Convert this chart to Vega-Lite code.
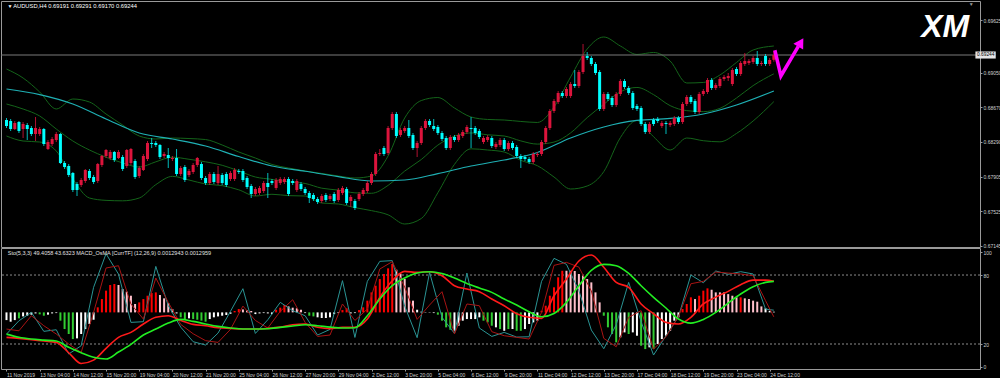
{
"$schema":"https://vega.github.io/schema/vega-lite/v6.json",
"background":"#000000",
"padding":0,
"spacing":1,
"bounds":"flush",
"config":{"view":{"stroke":"#9a9a9a","strokeWidth":1},"axis":{"labelFont":"Liberation Sans","labelFontSize":5,"labelColor":"#d0d0d0","tickColor":"#9a9a9a","domain":false,"grid":false,"tickSize":2,"title":null}},
"datasets":{
"candles":[
{"i":0,"o":0.68529,"h":0.68551,"l":0.68441,"c":0.68463},
{"i":1,"o":0.68518,"h":0.68540,"l":0.68408,"c":0.68430},
{"i":2,"o":0.68430,"h":0.68518,"l":0.68419,"c":0.68496},
{"i":3,"o":0.68507,"h":0.68518,"l":0.68386,"c":0.68408},
{"i":4,"o":0.68430,"h":0.68507,"l":0.68331,"c":0.68485},
{"i":5,"o":0.68474,"h":0.68496,"l":0.68309,"c":0.68430},
{"i":6,"o":0.68441,"h":0.68463,"l":0.68353,"c":0.68375},
{"i":7,"o":0.68375,"h":0.68562,"l":0.68298,"c":0.68441},
{"i":8,"o":0.68375,"h":0.68452,"l":0.68353,"c":0.68430},
{"i":9,"o":0.68430,"h":0.68441,"l":0.68243,"c":0.68265},
{"i":10,"o":0.68210,"h":0.68309,"l":0.68199,"c":0.68287},
{"i":11,"o":0.68265,"h":0.68342,"l":0.68243,"c":0.68320},
{"i":12,"o":0.68309,"h":0.68397,"l":0.68287,"c":0.68375},
{"i":13,"o":0.68375,"h":0.68386,"l":0.68045,"c":0.68056},
{"i":14,"o":0.68056,"h":0.68078,"l":0.67990,"c":0.68012},
{"i":15,"o":0.68023,"h":0.68045,"l":0.67902,"c":0.67924},
{"i":16,"o":0.67946,"h":0.67957,"l":0.67737,"c":0.67759},
{"i":17,"o":0.67825,"h":0.67847,"l":0.67693,"c":0.67759},
{"i":18,"o":0.67814,"h":0.67891,"l":0.67792,"c":0.67869},
{"i":19,"o":0.67858,"h":0.67990,"l":0.67836,"c":0.67979},
{"i":20,"o":0.67968,"h":0.67990,"l":0.67869,"c":0.67891},
{"i":21,"o":0.67902,"h":0.67924,"l":0.67825,"c":0.67847},
{"i":22,"o":0.67858,"h":0.68056,"l":0.67836,"c":0.68045},
{"i":23,"o":0.68034,"h":0.68144,"l":0.68012,"c":0.68133},
{"i":24,"o":0.68133,"h":0.68210,"l":0.68111,"c":0.68199},
{"i":25,"o":0.68111,"h":0.68199,"l":0.68089,"c":0.68177},
{"i":26,"o":0.68177,"h":0.68188,"l":0.68067,"c":0.68089},
{"i":27,"o":0.68111,"h":0.68199,"l":0.68100,"c":0.68177},
{"i":28,"o":0.68122,"h":0.68144,"l":0.67968,"c":0.67990},
{"i":29,"o":0.68023,"h":0.68210,"l":0.68001,"c":0.68199},
{"i":30,"o":0.68056,"h":0.68221,"l":0.68034,"c":0.68210},
{"i":31,"o":0.68078,"h":0.68100,"l":0.67880,"c":0.67902},
{"i":32,"o":0.67913,"h":0.68023,"l":0.67891,"c":0.68001},
{"i":33,"o":0.67979,"h":0.68155,"l":0.67968,"c":0.68133},
{"i":34,"o":0.68100,"h":0.68298,"l":0.68078,"c":0.68276},
{"i":35,"o":0.68276,"h":0.68331,"l":0.68221,"c":0.68265},
{"i":36,"o":0.68276,"h":0.68298,"l":0.68232,"c":0.68254},
{"i":37,"o":0.68254,"h":0.68265,"l":0.68100,"c":0.68122},
{"i":38,"o":0.68133,"h":0.68177,"l":0.68111,"c":0.68155},
{"i":39,"o":0.68144,"h":0.68221,"l":0.68001,"c":0.68111},
{"i":40,"o":0.68100,"h":0.68133,"l":0.68078,"c":0.68111},
{"i":41,"o":0.68111,"h":0.68210,"l":0.67913,"c":0.67935},
{"i":42,"o":0.67935,"h":0.68023,"l":0.67913,"c":0.68001},
{"i":43,"o":0.68012,"h":0.68034,"l":0.67847,"c":0.67869},
{"i":44,"o":0.67924,"h":0.67990,"l":0.67902,"c":0.67968},
{"i":45,"o":0.67957,"h":0.68056,"l":0.67935,"c":0.68034},
{"i":46,"o":0.68034,"h":0.68122,"l":0.68012,"c":0.68111},
{"i":47,"o":0.68045,"h":0.68067,"l":0.67869,"c":0.67891},
{"i":48,"o":0.67891,"h":0.67913,"l":0.67814,"c":0.67836},
{"i":49,"o":0.67836,"h":0.67957,"l":0.67814,"c":0.67935},
{"i":50,"o":0.67935,"h":0.67957,"l":0.67825,"c":0.67847},
{"i":51,"o":0.67836,"h":0.68023,"l":0.67814,"c":0.67935},
{"i":52,"o":0.67924,"h":0.67946,"l":0.67814,"c":0.67836},
{"i":53,"o":0.67935,"h":0.67957,"l":0.67792,"c":0.67814},
{"i":54,"o":0.67880,"h":0.67968,"l":0.67858,"c":0.67946},
{"i":55,"o":0.67880,"h":0.68001,"l":0.67858,"c":0.67979},
{"i":56,"o":0.67968,"h":0.67990,"l":0.67935,"c":0.67957},
{"i":57,"o":0.67968,"h":0.67990,"l":0.67847,"c":0.67869},
{"i":58,"o":0.67891,"h":0.67913,"l":0.67770,"c":0.67792},
{"i":59,"o":0.67803,"h":0.67825,"l":0.67671,"c":0.67715},
{"i":60,"o":0.67715,"h":0.67792,"l":0.67693,"c":0.67770},
{"i":61,"o":0.67726,"h":0.67803,"l":0.67704,"c":0.67781},
{"i":62,"o":0.67748,"h":0.67858,"l":0.67726,"c":0.67836},
{"i":63,"o":0.67836,"h":0.67946,"l":0.67671,"c":0.67792},
{"i":64,"o":0.67858,"h":0.67880,"l":0.67814,"c":0.67836},
{"i":65,"o":0.67781,"h":0.67891,"l":0.67759,"c":0.67869},
{"i":66,"o":0.67836,"h":0.67902,"l":0.67814,"c":0.67880},
{"i":67,"o":0.67847,"h":0.67902,"l":0.67825,"c":0.67880},
{"i":68,"o":0.67880,"h":0.67902,"l":0.67693,"c":0.67715},
{"i":69,"o":0.67858,"h":0.67880,"l":0.67814,"c":0.67836},
{"i":70,"o":0.67759,"h":0.67880,"l":0.67737,"c":0.67858},
{"i":71,"o":0.67825,"h":0.67847,"l":0.67748,"c":0.67770},
{"i":72,"o":0.67770,"h":0.67792,"l":0.67704,"c":0.67726},
{"i":73,"o":0.67726,"h":0.67748,"l":0.67616,"c":0.67671},
{"i":74,"o":0.67704,"h":0.67726,"l":0.67638,"c":0.67660},
{"i":75,"o":0.67660,"h":0.67682,"l":0.67605,"c":0.67627},
{"i":76,"o":0.67638,"h":0.67715,"l":0.67616,"c":0.67693},
{"i":77,"o":0.67704,"h":0.67726,"l":0.67627,"c":0.67649},
{"i":78,"o":0.67660,"h":0.67715,"l":0.67638,"c":0.67693},
{"i":79,"o":0.67715,"h":0.67737,"l":0.67616,"c":0.67638},
{"i":80,"o":0.67649,"h":0.67781,"l":0.67627,"c":0.67759},
{"i":81,"o":0.67726,"h":0.67803,"l":0.67704,"c":0.67781},
{"i":82,"o":0.67770,"h":0.67792,"l":0.67594,"c":0.67616},
{"i":83,"o":0.67638,"h":0.67704,"l":0.67572,"c":0.67682},
{"i":84,"o":0.67638,"h":0.67660,"l":0.67539,"c":0.67561},
{"i":85,"o":0.67660,"h":0.67737,"l":0.67638,"c":0.67715},
{"i":86,"o":0.67715,"h":0.67781,"l":0.67693,"c":0.67759},
{"i":87,"o":0.67748,"h":0.67858,"l":0.67726,"c":0.67836},
{"i":88,"o":0.67836,"h":0.67957,"l":0.67814,"c":0.67935},
{"i":89,"o":0.67935,"h":0.68177,"l":0.67913,"c":0.68155},
{"i":90,"o":0.68155,"h":0.68210,"l":0.68133,"c":0.68166},
{"i":91,"o":0.68221,"h":0.68243,"l":0.68133,"c":0.68155},
{"i":92,"o":0.68166,"h":0.68463,"l":0.68144,"c":0.68441},
{"i":93,"o":0.68441,"h":0.68617,"l":0.68419,"c":0.68595},
{"i":94,"o":0.68595,"h":0.68617,"l":0.68331,"c":0.68353},
{"i":95,"o":0.68364,"h":0.68441,"l":0.68342,"c":0.68419},
{"i":96,"o":0.68408,"h":0.68463,"l":0.68386,"c":0.68441},
{"i":97,"o":0.68441,"h":0.68529,"l":0.68331,"c":0.68353},
{"i":98,"o":0.68364,"h":0.68386,"l":0.68199,"c":0.68221},
{"i":99,"o":0.68221,"h":0.68298,"l":0.68122,"c":0.68276},
{"i":100,"o":0.68276,"h":0.68463,"l":0.68254,"c":0.68441},
{"i":101,"o":0.68441,"h":0.68540,"l":0.68419,"c":0.68518},
{"i":102,"o":0.68518,"h":0.68540,"l":0.68452,"c":0.68474},
{"i":103,"o":0.68463,"h":0.68540,"l":0.68408,"c":0.68430},
{"i":104,"o":0.68452,"h":0.68474,"l":0.68364,"c":0.68386},
{"i":105,"o":0.68386,"h":0.68408,"l":0.68298,"c":0.68320},
{"i":106,"o":0.68331,"h":0.68353,"l":0.68199,"c":0.68221},
{"i":107,"o":0.68221,"h":0.68364,"l":0.68199,"c":0.68342},
{"i":108,"o":0.68342,"h":0.68364,"l":0.68287,"c":0.68309},
{"i":109,"o":0.68309,"h":0.68386,"l":0.68287,"c":0.68364},
{"i":110,"o":0.68353,"h":0.68419,"l":0.68331,"c":0.68397},
{"i":111,"o":0.68397,"h":0.68474,"l":0.68375,"c":0.68452},
{"i":112,"o":0.68441,"h":0.68562,"l":0.68221,"c":0.68430},
{"i":113,"o":0.68441,"h":0.68463,"l":0.68364,"c":0.68386},
{"i":114,"o":0.68408,"h":0.68430,"l":0.68320,"c":0.68342},
{"i":115,"o":0.68287,"h":0.68353,"l":0.68265,"c":0.68331},
{"i":116,"o":0.68309,"h":0.68364,"l":0.68287,"c":0.68342},
{"i":117,"o":0.68331,"h":0.68353,"l":0.68221,"c":0.68243},
{"i":118,"o":0.68232,"h":0.68287,"l":0.68210,"c":0.68265},
{"i":119,"o":0.68254,"h":0.68331,"l":0.68232,"c":0.68309},
{"i":120,"o":0.68309,"h":0.68331,"l":0.68188,"c":0.68210},
{"i":121,"o":0.68210,"h":0.68298,"l":0.68188,"c":0.68276},
{"i":122,"o":0.68276,"h":0.68298,"l":0.68199,"c":0.68221},
{"i":123,"o":0.68232,"h":0.68254,"l":0.68111,"c":0.68133},
{"i":124,"o":0.68133,"h":0.68155,"l":0.68001,"c":0.68100},
{"i":125,"o":0.68122,"h":0.68144,"l":0.68078,"c":0.68100},
{"i":126,"o":0.68100,"h":0.68122,"l":0.68045,"c":0.68067},
{"i":127,"o":0.68067,"h":0.68177,"l":0.68045,"c":0.68155},
{"i":128,"o":0.68144,"h":0.68177,"l":0.68122,"c":0.68155},
{"i":129,"o":0.68155,"h":0.68309,"l":0.68133,"c":0.68287},
{"i":130,"o":0.68287,"h":0.68463,"l":0.68265,"c":0.68441},
{"i":131,"o":0.68441,"h":0.68650,"l":0.68419,"c":0.68628},
{"i":132,"o":0.68628,"h":0.68760,"l":0.68606,"c":0.68738},
{"i":133,"o":0.68727,"h":0.68848,"l":0.68705,"c":0.68826},
{"i":134,"o":0.68826,"h":0.68848,"l":0.68771,"c":0.68793},
{"i":135,"o":0.68793,"h":0.68892,"l":0.68771,"c":0.68870},
{"i":136,"o":0.68793,"h":0.68947,"l":0.68771,"c":0.68925},
{"i":137,"o":0.68925,"h":0.69079,"l":0.68881,"c":0.68903},
{"i":138,"o":0.68903,"h":0.69079,"l":0.68881,"c":0.69057},
{"i":139,"o":0.69057,"h":0.69365,"l":0.69035,"c":0.69233},
{"i":140,"o":0.69233,"h":0.69277,"l":0.69189,"c":0.69211},
{"i":141,"o":0.69211,"h":0.69233,"l":0.69123,"c":0.69145},
{"i":142,"o":0.69145,"h":0.69167,"l":0.69024,"c":0.69046},
{"i":143,"o":0.69057,"h":0.69079,"l":0.68628,"c":0.68650},
{"i":144,"o":0.68650,"h":0.68837,"l":0.68628,"c":0.68815},
{"i":145,"o":0.68815,"h":0.68837,"l":0.68738,"c":0.68760},
{"i":146,"o":0.68771,"h":0.68793,"l":0.68672,"c":0.68694},
{"i":147,"o":0.68694,"h":0.68837,"l":0.68672,"c":0.68815},
{"i":148,"o":0.68815,"h":0.68980,"l":0.68793,"c":0.68958},
{"i":149,"o":0.68958,"h":0.68980,"l":0.68870,"c":0.68892},
{"i":150,"o":0.68881,"h":0.68903,"l":0.68804,"c":0.68826},
{"i":151,"o":0.68826,"h":0.68848,"l":0.68639,"c":0.68661},
{"i":152,"o":0.68683,"h":0.68705,"l":0.68628,"c":0.68650},
{"i":153,"o":0.68661,"h":0.68683,"l":0.68463,"c":0.68485},
{"i":154,"o":0.68485,"h":0.68507,"l":0.68375,"c":0.68397},
{"i":155,"o":0.68397,"h":0.68507,"l":0.68375,"c":0.68485},
{"i":156,"o":0.68529,"h":0.68551,"l":0.68463,"c":0.68485},
{"i":157,"o":0.68540,"h":0.68562,"l":0.68496,"c":0.68518},
{"i":158,"o":0.68463,"h":0.68518,"l":0.68441,"c":0.68496},
{"i":159,"o":0.68496,"h":0.68518,"l":0.68375,"c":0.68485},
{"i":160,"o":0.68474,"h":0.68518,"l":0.68452,"c":0.68496},
{"i":161,"o":0.68485,"h":0.68573,"l":0.68463,"c":0.68551},
{"i":162,"o":0.68551,"h":0.68573,"l":0.68485,"c":0.68507},
{"i":163,"o":0.68507,"h":0.68727,"l":0.68485,"c":0.68705},
{"i":164,"o":0.68705,"h":0.68804,"l":0.68683,"c":0.68782},
{"i":165,"o":0.68782,"h":0.68804,"l":0.68705,"c":0.68727},
{"i":166,"o":0.68738,"h":0.68760,"l":0.68595,"c":0.68617},
{"i":167,"o":0.68617,"h":0.68837,"l":0.68595,"c":0.68815},
{"i":168,"o":0.68815,"h":0.68870,"l":0.68793,"c":0.68848},
{"i":169,"o":0.68837,"h":0.68991,"l":0.68815,"c":0.68969},
{"i":170,"o":0.68969,"h":0.68991,"l":0.68859,"c":0.68881},
{"i":171,"o":0.68881,"h":0.68936,"l":0.68859,"c":0.68914},
{"i":172,"o":0.68903,"h":0.69002,"l":0.68881,"c":0.68980},
{"i":173,"o":0.68980,"h":0.69024,"l":0.68958,"c":0.69002},
{"i":174,"o":0.68991,"h":0.69046,"l":0.68958,"c":0.69013},
{"i":175,"o":0.68925,"h":0.69101,"l":0.68903,"c":0.69079},
{"i":176,"o":0.69090,"h":0.69112,"l":0.69013,"c":0.69035},
{"i":177,"o":0.69035,"h":0.69178,"l":0.69013,"c":0.69156},
{"i":178,"o":0.69145,"h":0.69266,"l":0.69123,"c":0.69178},
{"i":179,"o":0.69156,"h":0.69200,"l":0.69134,"c":0.69178},
{"i":180,"o":0.69167,"h":0.69233,"l":0.69145,"c":0.69211},
{"i":181,"o":0.69211,"h":0.69288,"l":0.69123,"c":0.69145},
{"i":182,"o":0.69145,"h":0.69178,"l":0.69123,"c":0.69156},
{"i":183,"o":0.69233,"h":0.69255,"l":0.69123,"c":0.69145},
{"i":184,"o":0.69145,"h":0.69211,"l":0.69123,"c":0.69189},
{"i":185,"o":0.69191,"h":0.69291,"l":0.69170,"c":0.69244}
],
"bands":[
{"i":0,"up":0.69090,"mid":0.68705,"lo":0.68353},
{"i":4,"up":0.68991,"mid":0.68650,"lo":0.68298},
{"i":8,"up":0.68837,"mid":0.68573,"lo":0.68287},
{"i":12,"up":0.68650,"mid":0.68430,"lo":0.68188},
{"i":16,"up":0.68760,"mid":0.68298,"lo":0.67880},
{"i":20,"up":0.68727,"mid":0.68199,"lo":0.67671},
{"i":24,"up":0.68595,"mid":0.68120,"lo":0.67645},
{"i":28,"up":0.68474,"mid":0.68057,"lo":0.67640},
{"i":32,"up":0.68353,"mid":0.68011,"lo":0.67671},
{"i":36,"up":0.68320,"mid":0.68069,"lo":0.67818},
{"i":40,"up":0.68331,"mid":0.68120,"lo":0.67909},
{"i":44,"up":0.68325,"mid":0.68097,"lo":0.67869},
{"i":48,"up":0.68314,"mid":0.68069,"lo":0.67825},
{"i":52,"up":0.68254,"mid":0.68031,"lo":0.67807},
{"i":56,"up":0.68177,"mid":0.67969,"lo":0.67761},
{"i":60,"up":0.68111,"mid":0.67902,"lo":0.67693},
{"i":64,"up":0.68040,"mid":0.67876,"lo":0.67712},
{"i":68,"up":0.68001,"mid":0.67849,"lo":0.67697},
{"i":72,"up":0.67968,"mid":0.67831,"lo":0.67693},
{"i":76,"up":0.67941,"mid":0.67779,"lo":0.67616},
{"i":80,"up":0.67913,"mid":0.67758,"lo":0.67605},
{"i":84,"up":0.67891,"mid":0.67728,"lo":0.67565},
{"i":88,"up":0.67913,"mid":0.67723,"lo":0.67532},
{"i":92,"up":0.68133,"mid":0.67810,"lo":0.67486},
{"i":96,"up":0.68551,"mid":0.67967,"lo":0.67385},
{"i":100,"up":0.68743,"mid":0.68094,"lo":0.67445},
{"i":104,"up":0.68776,"mid":0.68253,"lo":0.67729},
{"i":108,"up":0.68661,"mid":0.68351,"lo":0.68041},
{"i":112,"up":0.68562,"mid":0.68387,"lo":0.68212},
{"i":116,"up":0.68535,"mid":0.68366,"lo":0.68199},
{"i":120,"up":0.68529,"mid":0.68353,"lo":0.68177},
{"i":124,"up":0.68513,"mid":0.68299,"lo":0.68085},
{"i":128,"up":0.68502,"mid":0.68264,"lo":0.68026},
{"i":132,"up":0.68672,"mid":0.68286,"lo":0.67902},
{"i":136,"up":0.69002,"mid":0.68387,"lo":0.67770},
{"i":140,"up":0.69310,"mid":0.68555,"lo":0.67803},
{"i":144,"up":0.69442,"mid":0.68702,"lo":0.67961},
{"i":148,"up":0.69343,"mid":0.68839,"lo":0.68335},
{"i":152,"up":0.69250,"mid":0.68887,"lo":0.68524},
{"i":156,"up":0.69272,"mid":0.68808,"lo":0.68345},
{"i":160,"up":0.69178,"mid":0.68687,"lo":0.68199},
{"i":164,"up":0.68936,"mid":0.68632,"lo":0.68331},
{"i":168,"up":0.68942,"mid":0.68621,"lo":0.68301},
{"i":172,"up":0.69024,"mid":0.68657,"lo":0.68289},
{"i":176,"up":0.69162,"mid":0.68771,"lo":0.68381},
{"i":180,"up":0.69299,"mid":0.68907,"lo":0.68518},
{"i":185,"up":0.69343,"mid":0.69037,"lo":0.68731}
],
"ma":[
{"i":0,"ma":0.68870},{"i":8,"ma":0.68809},{"i":16,"ma":0.68705},{"i":24,"ma":0.68540},{"i":32,"ma":0.68386},{"i":40,"ma":0.68320},{"i":48,"ma":0.68243},{"i":56,"ma":0.68127},{"i":64,"ma":0.68023},{"i":72,"ma":0.67965},{"i":80,"ma":0.67906},{"i":88,"ma":0.67858},{"i":96,"ma":0.67869},{"i":104,"ma":0.67940},{"i":112,"ma":0.68023},{"i":120,"ma":0.68089},{"i":128,"ma":0.68172},{"i":136,"ma":0.68331},{"i":144,"ma":0.68452},{"i":152,"ma":0.68524},{"i":160,"ma":0.68546},{"i":168,"ma":0.68595},{"i":176,"ma":0.68694},{"i":185,"ma":0.68848}
],
"arrow":[
{"i":185.25,"p":0.69296},{"i":186.7,"p":0.69013},{"i":190.9,"p":0.69339}
],
"osc":[
{"i":0,"k":28.6,"d":33.0,"m1":25.8,"m2":28.6},
{"i":3,"k":40.2,"d":31.5,"m1":24.9,"m2":25.8},
{"i":6,"k":47.5,"d":44.6,"m1":23.7,"m2":24.3},
{"i":9,"k":31.0,"d":35.9,"m1":22.6,"m2":23.4},
{"i":12,"k":32.4,"d":28.7,"m1":21.4,"m2":22.6},
{"i":15,"k":11.3,"d":20.0,"m1":12.4,"m2":17.1},
{"i":18,"k":18.5,"d":12.7,"m1":3.1,"m2":12.4},
{"i":21,"k":69.3,"d":47.5,"m1":6.0,"m2":8.4},
{"i":24,"k":98.5,"d":86.1,"m1":16.2,"m2":6.9},
{"i":27,"k":80.8,"d":88.1,"m1":25.8,"m2":13.0},
{"i":30,"k":38.8,"d":54.8,"m1":30.1,"m2":19.7},
{"i":33,"k":39.4,"d":41.7,"m1":37.4,"m2":27.8},
{"i":36,"k":87.5,"d":77.4,"m1":43.2,"m2":33.0},
{"i":39,"k":53.3,"d":56.2,"m1":44.6,"m2":38.2},
{"i":42,"k":34.7,"d":37.1,"m1":40.5,"m2":41.4},
{"i":45,"k":22.0,"d":28.9,"m1":37.1,"m2":39.7},
{"i":48,"k":19.1,"d":22.9,"m1":35.9,"m2":37.4},
{"i":51,"k":29.5,"d":21.4,"m1":34.2,"m2":35.3},
{"i":54,"k":48.4,"d":32.7,"m1":33.6,"m2":33.9},
{"i":57,"k":68.1,"d":53.0,"m1":33.0,"m2":33.0},
{"i":60,"k":29.2,"d":40.5,"m1":33.0,"m2":33.0},
{"i":63,"k":41.1,"d":33.9,"m1":33.6,"m2":33.3},
{"i":66,"k":56.2,"d":48.4,"m1":34.7,"m2":34.5},
{"i":69,"k":49.0,"d":58.5,"m1":36.8,"m2":35.6},
{"i":72,"k":44.6,"d":38.8,"m1":37.4,"m2":36.8},
{"i":75,"k":27.8,"d":26.6,"m1":34.5,"m2":35.9},
{"i":78,"k":32.7,"d":27.8,"m1":33.3,"m2":34.7},
{"i":81,"k":75.1,"d":54.8,"m1":34.5,"m2":33.9},
{"i":84,"k":25.7,"d":40.5,"m1":34.5,"m2":34.2},
{"i":87,"k":74.5,"d":50.4,"m1":41.7,"m2":44.6},
{"i":90,"k":91.9,"d":85.2,"m1":60.5,"m2":59.1},
{"i":93,"k":92.5,"d":91.6,"m1":75.0,"m2":70.7},
{"i":96,"k":53.0,"d":69.5,"m1":83.2,"m2":77.4},
{"i":99,"k":25.5,"d":41.4,"m1":82.3,"m2":81.7},
{"i":102,"k":82.3,"d":53.9,"m1":82.9,"m2":82.9},
{"i":105,"k":43.2,"d":65.5,"m1":79.4,"m2":81.4},
{"i":108,"k":29.2,"d":28.7,"m1":70.7,"m2":77.4},
{"i":111,"k":81.7,"d":54.8,"m1":67.8,"m2":72.7},
{"i":114,"k":33.9,"d":53.3,"m1":65.5,"m2":68.7},
{"i":117,"k":26.6,"d":30.7,"m1":59.1,"m2":64.9},
{"i":120,"k":30.1,"d":27.2,"m1":53.3,"m2":59.1},
{"i":123,"k":26.0,"d":25.8,"m1":46.3,"m2":53.9},
{"i":126,"k":26.3,"d":24.3,"m1":43.2,"m2":48.1},
{"i":129,"k":74.5,"d":47.5,"m1":42.3,"m2":43.7},
{"i":132,"k":94.5,"d":88.4,"m1":62.0,"m2":46.6},
{"i":135,"k":89.3,"d":91.0,"m1":76.5,"m2":56.2},
{"i":138,"k":66.4,"d":86.9,"m1":92.2,"m2":70.7},
{"i":141,"k":32.1,"d":66.1,"m1":97.4,"m2":84.0},
{"i":144,"k":15.9,"d":24.9,"m1":86.7,"m2":89.3},
{"i":147,"k":36.8,"d":17.6,"m1":73.6,"m2":88.1},
{"i":150,"k":73.6,"d":43.2,"m1":69.3,"m2":81.4},
{"i":153,"k":39.4,"d":49.0,"m1":54.8,"m2":70.7},
{"i":156,"k":10.4,"d":15.6,"m1":46.3,"m2":60.6},
{"i":159,"k":27.2,"d":26.3,"m1":38.8,"m2":51.3},
{"i":162,"k":43.7,"d":43.7,"m1":37.4,"m2":41.7},
{"i":165,"k":80.0,"d":72.4,"m1":43.2,"m2":38.2},
{"i":168,"k":73.3,"d":74.5,"m1":54.8,"m2":41.4},
{"i":171,"k":83.5,"d":82.6,"m1":60.8,"m2":47.5},
{"i":174,"k":80.6,"d":81.7,"m1":65.8,"m2":55.6},
{"i":177,"k":82.9,"d":80.9,"m1":71.6,"m2":63.5},
{"i":180,"k":80.9,"d":79.4,"m1":75.6,"m2":69.8},
{"i":183,"k":50.4,"d":57.7,"m1":75.6,"m2":73.6},
{"i":185,"k":49.4,"d":43.6,"m1":74.5,"m2":74.5}
],
"hist":[
{"i":0,"v":40.8,"s":"-u"},{"i":1,"v":39.4,"s":"-u"},{"i":2,"v":40.8,"s":"-u"},{"i":3,"v":42.3,"s":"-d"},{"i":4,"v":44.0,"s":"-u"},{"i":5,"v":44.6,"s":"-u"},{"i":6,"v":45.5,"s":"-u"},{"i":7,"v":46.6,"s":"-u"},{"i":8,"v":45.8,"s":"-d"},{"i":9,"v":44.6,"s":"-d"},
{"i":10,"v":45.5,"s":"-u"},{"i":11,"v":46.6,"s":"-u"},{"i":12,"v":46.9,"s":"-u"},{"i":13,"v":40.3,"s":"-d"},{"i":14,"v":33.0,"s":"-d"},{"i":15,"v":28.7,"s":"-d"},{"i":16,"v":24.3,"s":"-d"},{"i":17,"v":24.9,"s":"-u"},{"i":18,"v":28.7,"s":"-u"},{"i":19,"v":33.0,"s":"-u"},
{"i":20,"v":37.4,"s":"-u"},{"i":21,"v":41.1,"s":"-u"},{"i":22,"v":51.9,"s":"+u"},{"i":23,"v":59.1,"s":"+u"},{"i":24,"v":66.4,"s":"+u"},{"i":25,"v":71.3,"s":"+u"},{"i":26,"v":72.2,"s":"+u"},{"i":27,"v":71.3,"s":"+d"},{"i":28,"v":67.8,"s":"+d"},{"i":29,"v":65.5,"s":"+d"},
{"i":30,"v":62.0,"s":"+d"},{"i":31,"v":54.8,"s":"+d"},{"i":32,"v":56.2,"s":"+u"},{"i":33,"v":59.1,"s":"+u"},{"i":34,"v":62.0,"s":"+u"},{"i":35,"v":64.3,"s":"+u"},{"i":36,"v":64.9,"s":"+u"},{"i":37,"v":62.6,"s":"+d"},{"i":38,"v":59.7,"s":"+d"},{"i":39,"v":55.6,"s":"+d"},
{"i":40,"v":50.4,"s":"+d"},{"i":41,"v":46.6,"s":"-u"},{"i":42,"v":43.2,"s":"-d"},{"i":43,"v":41.1,"s":"-d"},{"i":44,"v":42.3,"s":"-u"},{"i":45,"v":41.7,"s":"-d"},{"i":46,"v":41.1,"s":"-d"},{"i":47,"v":40.3,"s":"-d"},{"i":48,"v":39.4,"s":"-d"},{"i":49,"v":41.7,"s":"-u"},
{"i":50,"v":43.2,"s":"-u"},{"i":51,"v":44.0,"s":"-u"},{"i":52,"v":44.6,"s":"-u"},{"i":53,"v":45.2,"s":"-u"},{"i":54,"v":46.3,"s":"-u"},{"i":55,"v":48.7,"s":"+u"},{"i":56,"v":50.4,"s":"+u"},{"i":57,"v":50.1,"s":"+d"},{"i":58,"v":49.2,"s":"+d"},{"i":59,"v":48.7,"s":"+d"},
{"i":60,"v":46.0,"s":"-u"},{"i":61,"v":46.6,"s":"-u"},{"i":62,"v":46.9,"s":"-u"},{"i":63,"v":46.6,"s":"-u"},{"i":64,"v":46.0,"s":"-u"},{"i":65,"v":49.8,"s":"+u"},{"i":66,"v":51.6,"s":"+u"},{"i":67,"v":53.9,"s":"+u"},{"i":68,"v":52.7,"s":"+d"},{"i":69,"v":51.6,"s":"+d"},
{"i":70,"v":51.0,"s":"+d"},{"i":71,"v":49.8,"s":"+d"},{"i":72,"v":46.9,"s":"-u"},{"i":73,"v":44.6,"s":"-d"},{"i":74,"v":44.0,"s":"-d"},{"i":75,"v":43.2,"s":"-u"},{"i":76,"v":42.6,"s":"-u"},{"i":77,"v":42.6,"s":"-u"},{"i":78,"v":43.2,"s":"-u"},{"i":79,"v":46.0,"s":"-u"},
{"i":80,"v":46.9,"s":"-u"},{"i":81,"v":49.5,"s":"+u"},{"i":82,"v":51.0,"s":"+u"},{"i":83,"v":46.6,"s":"-u"},{"i":84,"v":46.9,"s":"-u"},{"i":85,"v":49.5,"s":"+u"},{"i":86,"v":51.9,"s":"+u"},{"i":87,"v":57.7,"s":"+u"},{"i":88,"v":64.9,"s":"+u"},{"i":89,"v":70.7,"s":"+u"},
{"i":90,"v":76.5,"s":"+u"},{"i":91,"v":80.9,"s":"+u"},{"i":92,"v":85.8,"s":"+u"},{"i":93,"v":89.6,"s":"+u"},{"i":94,"v":84.6,"s":"+d"},{"i":95,"v":80.9,"s":"+d"},{"i":96,"v":76.5,"s":"+d"},{"i":97,"v":69.3,"s":"+d"},{"i":98,"v":57.7,"s":"+d"},{"i":99,"v":49.8,"s":"-u"},
{"i":100,"v":48.1,"s":"-u"},{"i":101,"v":47.8,"s":"-u"},{"i":102,"v":47.8,"s":"-u"},{"i":103,"v":46.9,"s":"-u"},{"i":104,"v":45.5,"s":"-d"},{"i":105,"v":40.3,"s":"-d"},{"i":106,"v":34.5,"s":"-d"},{"i":107,"v":32.4,"s":"-d"},{"i":108,"v":31.5,"s":"-u"},{"i":109,"v":35.9,"s":"-u"},
{"i":110,"v":40.3,"s":"-u"},{"i":111,"v":41.7,"s":"-u"},{"i":112,"v":41.7,"s":"-u"},{"i":113,"v":41.7,"s":"-u"},{"i":114,"v":43.2,"s":"-u"},{"i":115,"v":40.3,"s":"-d"},{"i":116,"v":38.8,"s":"-d"},{"i":117,"v":35.9,"s":"-d"},{"i":118,"v":34.5,"s":"-u"},{"i":119,"v":33.0,"s":"-d"},
{"i":120,"v":31.5,"s":"-u"},{"i":121,"v":33.0,"s":"-d"},{"i":122,"v":33.0,"s":"-u"},{"i":123,"v":31.5,"s":"-d"},{"i":124,"v":31.5,"s":"-d"},{"i":125,"v":33.0,"s":"-u"},{"i":126,"v":37.4,"s":"-u"},{"i":127,"v":38.8,"s":"-u"},{"i":128,"v":40.3,"s":"-u"},{"i":129,"v":48.9,"s":"+u"},
{"i":130,"v":53.3,"s":"+u"},{"i":131,"v":62.0,"s":"+u"},{"i":132,"v":69.3,"s":"+u"},{"i":133,"v":78.0,"s":"+u"},{"i":134,"v":83.7,"s":"+u"},{"i":135,"v":83.7,"s":"+d"},{"i":136,"v":83.7,"s":"+d"},{"i":137,"v":83.5,"s":"+d"},{"i":138,"v":80.9,"s":"+d"},{"i":139,"v":79.4,"s":"+d"},
{"i":140,"v":76.5,"s":"+d"},{"i":141,"v":73.6,"s":"+d"},{"i":142,"v":64.9,"s":"+d"},{"i":143,"v":56.2,"s":"+d"},{"i":144,"v":44.6,"s":"-d"},{"i":145,"v":34.5,"s":"-d"},{"i":146,"v":28.7,"s":"-d"},{"i":147,"v":21.4,"s":"-d"},{"i":148,"v":25.8,"s":"-u"},{"i":149,"v":30.1,"s":"-u"},
{"i":150,"v":28.7,"s":"-d"},{"i":151,"v":30.1,"s":"-u"},{"i":152,"v":27.2,"s":"-u"},{"i":153,"v":18.5,"s":"-d"},{"i":154,"v":15.6,"s":"-d"},{"i":155,"v":17.1,"s":"-u"},{"i":156,"v":15.6,"s":"-d"},{"i":157,"v":20.0,"s":"-u"},{"i":158,"v":24.3,"s":"-u"},{"i":159,"v":27.2,"s":"-u"},
{"i":160,"v":31.5,"s":"-u"},{"i":161,"v":40.3,"s":"-u"},{"i":162,"v":43.2,"s":"-u"},{"i":163,"v":50.4,"s":"+u"},{"i":164,"v":54.8,"s":"+u"},{"i":165,"v":60.6,"s":"+u"},{"i":166,"v":59.1,"s":"+d"},{"i":167,"v":62.0,"s":"+u"},{"i":168,"v":66.4,"s":"+u"},{"i":169,"v":68.4,"s":"+u"},
{"i":170,"v":67.2,"s":"+d"},{"i":171,"v":64.9,"s":"+d"},{"i":172,"v":64.9,"s":"+d"},{"i":173,"v":64.9,"s":"+d"},{"i":174,"v":63.4,"s":"+d"},{"i":175,"v":62.0,"s":"+d"},{"i":176,"v":60.6,"s":"+d"},{"i":177,"v":60.6,"s":"+u"},{"i":178,"v":59.7,"s":"+d"},{"i":179,"v":59.1,"s":"+d"},
{"i":180,"v":57.7,"s":"+d"},{"i":181,"v":56.8,"s":"+d"},{"i":182,"v":52.7,"s":"+d"},{"i":183,"v":51.0,"s":"-u"},{"i":184,"v":48.9,"s":"-u"},{"i":185,"v":48.1,"s":"-u"}
]
},
"vconcat":[
{
"width":979,"height":246,
"layer":[
{"data":{"name":"bands"},"mark":{"type":"line","color":"#14641a","strokeWidth":1,"interpolate":"monotone"},
 "encoding":{"x":{"field":"i","type":"quantitative","scale":{"domain":[-0.12,233.5],"nice":false,"zero":false},"axis":null},
 "y":{"field":"up","type":"quantitative","scale":{"domain":[0.67132,0.69838],"nice":false,"zero":false},"axis":{"orient":"right","values":[0.69815,0.69625,0.69435,0.6905,0.6886,0.6867,0.6848,0.6829,0.681,0.67905,0.67715,0.67525,0.67335,0.67145],"format":".5f","labelPadding":1,"tickSize":2}}}},
{"data":{"name":"bands"},"mark":{"type":"line","color":"#14641a","strokeWidth":1,"interpolate":"monotone"},
 "encoding":{"x":{"field":"i","type":"quantitative","axis":null},"y":{"field":"mid","type":"quantitative"}}},
{"data":{"name":"bands"},"mark":{"type":"line","color":"#14641a","strokeWidth":1,"interpolate":"monotone"},
 "encoding":{"x":{"field":"i","type":"quantitative","axis":null},"y":{"field":"lo","type":"quantitative"}}},
{"data":{"name":"ma"},"mark":{"type":"line","color":"#1fb0b4","strokeWidth":1.2,"interpolate":"monotone"},
 "encoding":{"x":{"field":"i","type":"quantitative","axis":null},"y":{"field":"ma","type":"quantitative"}}},
{"data":{"values":[{"p":0.69244}]},"mark":{"type":"rule","color":"#7a7a7a","strokeWidth":1},
 "encoding":{"y":{"field":"p","type":"quantitative"}}},
{"data":{"name":"candles"},"mark":{"type":"rule","strokeWidth":1,"opacity":0.8},
 "encoding":{"x":{"field":"i","type":"quantitative","axis":null},"y":{"field":"l","type":"quantitative"},"y2":{"field":"h"},
 "color":{"condition":{"test":"datum.c >= datum.o","value":"#dc143c"},"value":"#00e8e8"}}},
{"data":{"name":"candles"},"mark":{"type":"bar","size":3},
 "encoding":{"x":{"field":"i","type":"quantitative","axis":null},"y":{"field":"o","type":"quantitative"},"y2":{"field":"c"},
 "color":{"condition":{"test":"datum.c >= datum.o","value":"#dc143c"},"value":"#00ffff"}}},
{"data":{"name":"arrow"},"mark":{"type":"line","color":"#ff00ff","strokeWidth":3.5,"strokeJoin":"miter"},
 "encoding":{"x":{"field":"i","type":"quantitative","axis":null},"y":{"field":"p","type":"quantitative"}}},
{"data":{"values":[{"i":191.5,"p":0.69383}]},"mark":{"type":"point","shape":"triangle-up","filled":true,"color":"#ff00ff","opacity":1,"size":130,"angle":31},
 "encoding":{"x":{"field":"i","type":"quantitative","axis":null},"y":{"field":"p","type":"quantitative"}}},
{"data":{"values":[{"t":"AUDUSD,H4  0.69191 0.69291 0.69170 0.69244"}]},"mark":{"type":"text","align":"left","baseline":"middle","fontSize":5.8,"font":"Liberation Sans","color":"#ffffff"},
 "encoding":{"x":{"datum":1.6},"y":{"datum":0.69783},"text":{"field":"t"}}},
{"data":{"values":[{"t":"▼"}]},"mark":{"type":"text","align":"center","baseline":"middle","fontSize":5,"color":"#ffffff"},
 "encoding":{"x":{"datum":0.85},"y":{"datum":0.69783},"text":{"field":"t"}}},
{"data":{"values":[{"t":"▼"}]},"mark":{"type":"text","align":"center","baseline":"middle","fontSize":5,"color":"#9a9a9a"},
 "encoding":{"x":{"datum":232.6},"y":{"datum":0.69800},"text":{"field":"t"}}},
{"data":{"values":[{"t":"XM"}]},"mark":{"type":"text","align":"center","baseline":"middle","fontSize":32,"font":"Liberation Sans","fontWeight":"bold","fontStyle":"italic","color":"#ffffff"},
 "encoding":{"x":{"datum":226.3},"y":{"datum":0.69552},"text":{"field":"t"}}},
{"data":{"values":[{"p":0.69244}]},"mark":{"type":"rect","color":"#e6e6e6"},
 "encoding":{"x":{"datum":233.6},"x2":{"datum":238.5},"y":{"datum":0.69283},"y2":{"datum":0.69205}}},
{"data":{"values":[{"p":0.69244}]},"mark":{"type":"text","align":"left","baseline":"middle","fontSize":4.8,"font":"Liberation Sans","color":"#000000"},
 "encoding":{"x":{"datum":234.0},"y":{"field":"p","type":"quantitative"},"text":{"value":"0.69244"}}}
]
},
{
"width":979,"height":121,
"layer":[
{"data":{"values":[{"lv":20},{"lv":80}]},"mark":{"type":"rule","color":"#8c8c8c","strokeDash":[2,2],"strokeWidth":1},
 "encoding":{"y":{"field":"lv","type":"quantitative","scale":{"domain":[-1.74,103.5],"nice":false,"zero":false},"axis":{"orient":"right","values":[0,20,80,100],"labelPadding":1,"tickSize":2}}}},
{"data":{"name":"hist"},"mark":{"type":"bar","size":2},
 "encoding":{"x":{"field":"i","type":"quantitative","scale":{"domain":[-0.12,233.5],"nice":false,"zero":false},
   "axis":{"orient":"bottom","values":[0,8,16,24,32,40,48,56,64,72,80,88,96,104,112,120,128,136,144,152,160,168,176,184],"labelAlign":"left","labelBaseline":"top","labelPadding":1,"tickSize":2,
   "labelExpr":"['11 Nov 2019','13 Nov 04:00','14 Nov 12:00','15 Nov 20:00','19 Nov 04:00','20 Nov 12:00','21 Nov 20:00','25 Nov 04:00','26 Nov 12:00','27 Nov 20:00','29 Nov 04:00','2 Dec 12:00','3 Dec 20:00','5 Dec 04:00','6 Dec 12:00','9 Dec 20:00','11 Dec 04:00','12 Dec 12:00','13 Dec 20:00','17 Dec 04:00','18 Dec 12:00','19 Dec 20:00','23 Dec 04:00','24 Dec 12:00'][round(datum.value/8)]"}},
  "y":{"field":"v","type":"quantitative"},"y2":{"datum":47.5},
  "color":{"field":"s","type":"nominal","scale":{"domain":["+u","+d","-d","-u"],"range":["#ff0000","#ffc0cb","#32cd32","#ffffff"]},"legend":null}}},
{"data":{"name":"osc"},"mark":{"type":"line","color":"#2a9494","strokeWidth":1},
 "encoding":{"x":{"field":"i","type":"quantitative"},"y":{"field":"k","type":"quantitative"}}},
{"data":{"name":"osc"},"mark":{"type":"line","color":"#a81414","strokeWidth":1},
 "encoding":{"x":{"field":"i","type":"quantitative"},"y":{"field":"d","type":"quantitative"}}},
{"data":{"name":"osc"},"mark":{"type":"line","color":"#ff1a1a","strokeWidth":1.6,"interpolate":"monotone"},
 "encoding":{"x":{"field":"i","type":"quantitative"},"y":{"field":"m1","type":"quantitative"}}},
{"data":{"name":"osc"},"mark":{"type":"line","color":"#22ee22","strokeWidth":1.6,"interpolate":"monotone"},
 "encoding":{"x":{"field":"i","type":"quantitative"},"y":{"field":"m2","type":"quantitative"}}},
{"data":{"values":[{"t":"Sto(5,3,3) 49.4058 43.6323  MACD_OsMA [CurrTF] (12,26,9) 0.0012943 0.0012959"}]},"mark":{"type":"text","align":"left","baseline":"middle","fontSize":5.5,"font":"Liberation Sans","color":"#e0e0e0"},
 "encoding":{"x":{"datum":0.3},"y":{"datum":99.0},"text":{"field":"t"}}}
]
}
]
}
